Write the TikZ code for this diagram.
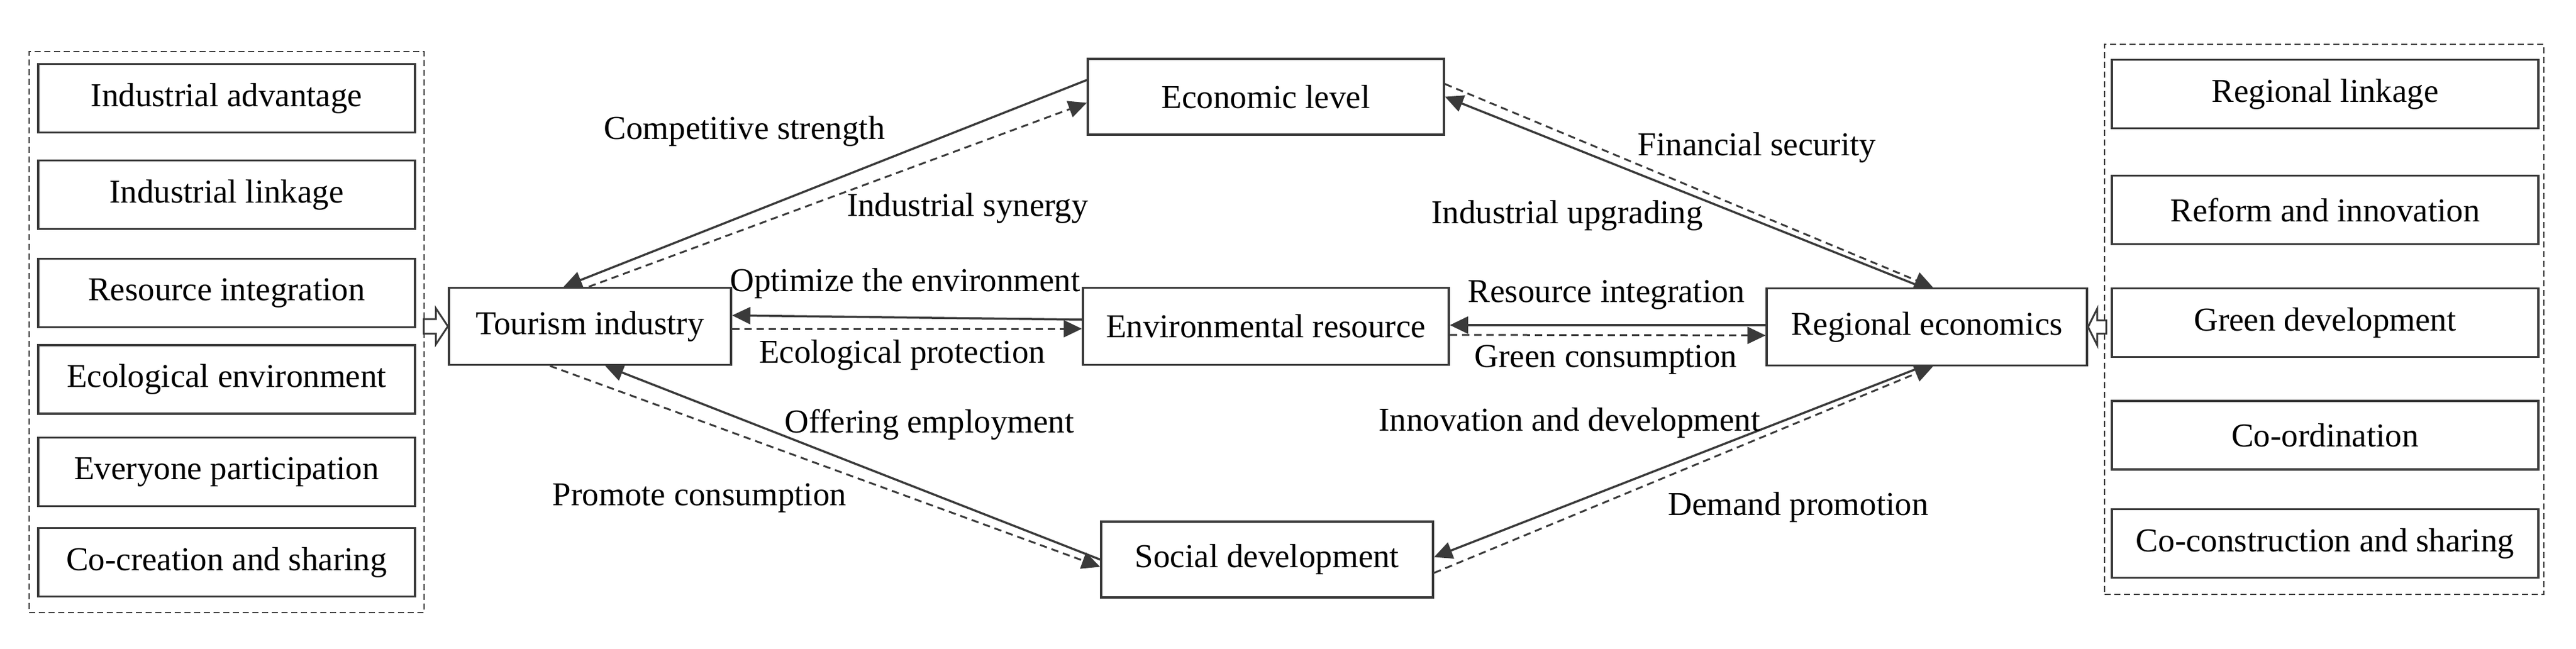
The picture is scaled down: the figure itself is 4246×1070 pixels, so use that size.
\documentclass[tikz,border=0pt]{standalone}
\usepackage{fontspec}
\setmainfont{Liberation Serif}
\usetikzlibrary{arrows.meta,calc}
\definecolor{linegray}{HTML}{3A3A3A}
\begin{document}
\begin{tikzpicture}[x=1pt,y=-1pt,
  box/.style={draw=linegray, line width=3.5pt, fill=white, inner sep=0pt, font=\fontsize{55}{60}\selectfont},
  lbl/.style={inner sep=0pt, font=\fontsize{55}{60}\selectfont},
  solidc/.style={draw=linegray, line width=3.5pt, -{Triangle[length=30pt,width=28pt]}},
  dashc/.style={draw=linegray, line width=3pt, dash pattern=on 12pt off 8pt, -{Triangle[length=30pt,width=28pt]}},
  groupbox/.style={draw=linegray, line width=2.5pt, dash pattern=on 10pt off 6pt, inner sep=0pt},
  hollow/.style={draw=linegray, line width=3pt, fill=white, line join=miter}]

\fill[white] (0,0) rectangle (4246,1070);
\useasboundingbox (0,0) rectangle (4246,1070);

% group boxes
\node[groupbox, minimum width=651pt, minimum height=925pt] (G1) at (373.5,547.5) {};
\node[groupbox, minimum width=724pt, minimum height=907pt] (G2) at (3831,526.5) {};

% left factor boxes
\node[box, minimum width=621pt, minimum height=113pt] (A1) at (373.5,162) {Industrial advantage};
\node[box, minimum width=621pt, minimum height=113pt] (A2) at (373.5,321) {Industrial linkage};
\node[box, minimum width=621pt, minimum height=113pt] (A3) at (373.5,483) {Resource integration};
\node[box, minimum width=621pt, minimum height=113pt] (A4) at (373.5,625.5) {Ecological environment};
\node[box, minimum width=621pt, minimum height=113pt] (A5) at (373.5,778) {Everyone participation};
\node[box, minimum width=621pt, minimum height=113pt] (A6) at (373.5,927) {Co-creation and sharing};

% right factor boxes
\node[box, minimum width=703pt, minimum height=113pt] (B1) at (3832.5,155) {Regional linkage};
\node[box, minimum width=703pt, minimum height=113pt] (B2) at (3832.5,346) {Reform and innovation};
\node[box, minimum width=703pt, minimum height=113pt] (B3) at (3832.5,532) {Green development};
\node[box, minimum width=703pt, minimum height=113pt] (B4) at (3832.5,717.5) {Co-ordination};
\node[box, minimum width=703pt, minimum height=113pt] (B5) at (3832.5,896) {Co-construction and sharing};

% main boxes
\node[box, minimum width=465pt, minimum height=127pt] (TI) at (972.5,538) {Tourism industry};
\node[box, minimum width=603pt, minimum height=127pt] (ER) at (2086.5,538) {Environmental resource};
\node[box, minimum width=528pt, minimum height=127pt] (RE) at (3176,539) {Regional economics};
\node[box, minimum width=587pt, minimum height=125pt] (EL) at (2086.5,159.5) {Economic level};
\node[box, minimum width=547pt, minimum height=125pt] (SD) at (2088.5,922.5) {Social development};

% hollow block arrows
\draw[hollow] ($(TI.west)+(-40,-12)$) -- ++(20,0) -- ++(0,-18) -- (TI.west) -- ++(-20,30) -- ++(0,-18) -- ++(-20,0) -- cycle;
\draw[hollow] ($(RE.east)+(30,-11)$) -- ++(-15,0) -- ++(0,-19) -- (RE.east) -- ++(15,30) -- ++(0,-19) -- ++(15,0) -- cycle;

% connectors
\draw[solidc] ([yshift=27.5pt]EL.west) -- ([xshift=-43.5pt]TI.north);
\draw[dashc] ([xshift=-2pt]TI.north) -- ([yshift=-10pt]EL.west);
\draw[solidc] ([yshift=11pt]ER.west) -- ([yshift=18pt]TI.east);
\draw[dashc] ([yshift=-4pt]TI.east) -- ([yshift=-4pt]ER.west);
\draw[solidc] ([yshift=3pt]RE.west) -- ([yshift=2pt]ER.east);
\draw[dashc] ([yshift=-14pt]ER.east) -- ([yshift=-14pt]RE.west);
\draw[solidc] ([xshift=-7pt]RE.north) -- (EL.east);
\draw[dashc] ([yshift=21pt]EL.east) -- ([xshift=10pt]RE.north);
\draw[solidc] (SD.west) -- ([xshift=25pt]TI.south);
\draw[dashc] ([xshift=-66pt]TI.south) -- ([yshift=-12pt]SD.west);
\draw[solidc] ([xshift=-7pt]RE.south) -- ([yshift=4pt]SD.east);
\draw[dashc] ([yshift=-22pt]SD.east) -- ([xshift=10pt]RE.south);

% labels
\node[lbl] (L1) at (1227,216) {Competitive strength};
\node[lbl] (L2) at (1595,343) {Industrial synergy};
\node[lbl] (L3) at (1492,467) {Optimize the environment};
\node[lbl] (L4) at (1487,585) {Ecological protection};
\node[lbl] (L5) at (2896,243) {Financial security};
\node[lbl] (L6) at (2583,355) {Industrial upgrading};
\node[lbl] (L7) at (2648,486) {Resource integration};
\node[lbl] (L8) at (2647,593) {Green consumption};
\node[lbl] (L9) at (1532,700) {Offering employment};
\node[lbl] (L10) at (1153,821) {Promote consumption};
\node[lbl] (L11) at (2587,697) {Innovation and development};
\node[lbl] (L12) at (2964,836) {Demand promotion};
\end{tikzpicture}
\end{document}
